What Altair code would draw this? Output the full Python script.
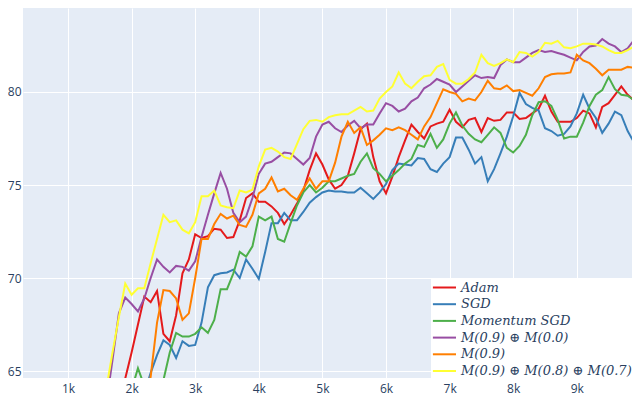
import altair as alt
import pandas as pd

NAMES = ["Adam", "SGD", "Momentum SGD", "M(0.9) ⊕ M(0.0)", "M(0.9)", "M(0.9) ⊕ M(0.8) ⊕ M(0.7)"]
COLORS = ["#e41a1c", "#377eb8", "#4daf4a", "#984ea3", "#ff7f00", "#ffff33"]
STEP = 100

ADAM_START = 1600
ADAM = [60.0, 62.0, 63.2, 64.6,
        66.0, 67.5, 69.0, 68.7, 69.3, 67.0, 66.6, 68.0, 70.25, 71.0,
        72.35, 72.15, 72.25, 72.65, 72.6, 72.15, 72.2, 73.1, 74.3, 74.55,
        74.1, 74.1, 73.85, 73.5, 72.9, 73.4, 74.0, 74.7, 75.8, 76.7,
        76.1, 75.3, 74.8, 75.0, 75.5, 76.7, 78.0, 78.3, 76.5, 75.2,
        74.55, 75.45, 76.5, 77.4, 78.25, 77.85, 77.5, 78.15, 78.3, 78.4,
        79.05, 78.4, 78.1, 78.5, 78.6, 77.85, 78.6, 78.45, 78.5, 78.9,
        78.9, 78.55, 78.6, 78.85, 79.1, 79.8, 78.95, 78.4, 78.4, 78.4,
        78.6, 79.0, 78.85, 78.1, 79.2, 79.4, 79.85, 80.3, 79.85, 79.55,
        80.2]

SGD_START = 2200
SGD = [63.8, 64.9, 65.85, 66.65, 66.4, 65.7, 66.6, 66.35,
       66.4, 67.6, 69.5, 70.15, 70.25, 70.3, 70.45, 70.0, 71.0, 70.5,
       69.95, 71.4, 72.95, 72.95, 73.5, 73.1, 73.1, 73.55, 74.05, 74.35,
       74.6, 74.7, 74.65, 74.65, 74.6, 74.6, 74.85, 74.55, 74.25, 74.6,
       75.05, 75.8, 76.15, 76.1, 76.05, 76.45, 76.4, 75.85, 75.7, 76.15,
       76.5, 77.55, 77.55, 76.9, 76.15, 76.5, 75.2, 75.85, 76.7, 77.6,
       78.7, 79.95, 79.35, 79.15, 79.0, 78.05, 77.9, 77.65, 77.75, 78.15,
       78.85, 79.85, 79.1, 78.6, 77.8, 78.3, 78.95, 78.75, 77.9, 77.3,
       77.2]

MSGD_START = 2000
MSGD = [64.0, 65.15, 64.2, 63.5, 63.8, 64.5, 66.0, 67.05, 66.85, 66.85,
        67.0, 67.35, 67.05, 67.75, 69.4, 69.4, 70.25, 71.4, 71.15, 71.7,
        73.3, 73.1, 73.3, 72.1, 71.95, 72.95, 73.9, 74.6, 75.0, 74.6,
        74.85, 75.2, 75.2, 75.35, 75.5, 75.6, 76.25, 76.7, 75.9, 75.6,
        75.2, 75.5, 75.8, 76.15, 76.4, 77.15, 77.05, 77.75, 77.0, 77.45,
        78.3, 78.9, 78.2, 77.75, 77.45, 77.3, 77.7, 78.1, 77.8, 77.0,
        76.75, 77.1, 77.7, 78.75, 79.45, 79.5, 79.25, 78.5, 77.5, 77.6,
        77.6, 78.35, 79.25, 79.85, 80.1, 80.8, 80.15, 79.85, 79.8, 79.55,
        78.85]

M2_START = 1500
M2 = [60.0, 63.2, 65.6, 68.1, 68.95,
      68.6, 68.2, 68.9, 70.0, 71.0, 70.6, 70.3, 70.65, 70.6, 70.4,
      70.9, 72.2, 73.4, 74.55, 75.65, 74.8, 73.5, 73.0, 73.3, 74.3,
      75.6, 76.15, 76.25, 76.5, 76.75, 76.7, 76.4, 76.1, 76.45, 77.6,
      78.25, 78.4, 78.05, 77.85, 78.2, 78.45, 78.05, 78.25, 78.25, 78.85,
      79.4, 79.25, 78.95, 79.1, 79.5, 79.7, 80.2, 80.4, 80.7, 80.55,
      80.4, 80.0, 80.3, 80.6, 80.9, 80.75, 80.8, 80.75, 81.45, 81.75,
      81.6, 81.6, 81.85, 82.1, 82.25, 82.15, 82.2, 82.1, 82.0, 81.85,
      81.7, 82.15, 82.45, 82.5, 82.85, 82.6, 82.45, 82.15, 82.35, 82.8,
      84.15]

M1_START = 2100
M1 = [60.0, 62.5, 64.7, 67.6, 69.35, 69.3, 68.9, 67.75, 68.1,
      70.0, 72.1, 72.1, 72.9, 73.45, 73.2, 73.35, 72.85, 72.75, 73.4,
      74.55, 74.8, 75.4, 74.65, 74.8, 74.45, 74.2, 74.8, 75.35, 74.8,
      75.2, 75.2, 76.2, 77.6, 78.4, 77.8, 78.1, 77.15, 77.4, 77.7,
      78.05, 77.95, 78.1, 77.95, 77.7, 77.45, 78.15, 78.65, 79.4, 80.15,
      80.0, 79.9, 79.5, 79.65, 79.55, 80.0, 80.6, 80.2, 80.15, 80.35,
      80.05, 80.1, 79.95, 79.8, 80.2, 80.8, 80.95, 81.0, 81.0, 81.05,
      82.0, 81.7, 81.55, 81.25, 80.9, 81.2, 81.2, 81.2, 81.35, 81.3,
      80.75]

M3_START = 1400
M3 = [59.0, 61.5, 64.0, 66.0, 67.9, 69.7,
      69.1, 69.45, 69.45, 70.8, 72.1, 73.4, 73.0, 73.1, 72.6, 72.4,
      73.0, 74.4, 74.4, 74.7, 73.9, 73.8, 73.75, 74.7, 74.6, 74.75,
      76.0, 76.9, 77.0, 76.8, 76.5, 76.4, 77.2, 78.0, 78.45, 78.5,
      78.4, 78.65, 78.75, 78.8, 78.8, 79.0, 79.2, 78.95, 79.0, 79.65,
      80.0, 80.3, 81.05, 80.45, 80.2, 80.55, 80.85, 80.9, 81.35, 81.5,
      80.65, 80.45, 80.45, 80.7, 81.05, 82.0, 81.55, 81.4, 81.55, 81.75,
      81.6, 82.15, 82.1, 81.9, 82.15, 82.65, 82.6, 82.75, 82.4, 82.35,
      82.45, 82.6, 82.6, 82.55, 82.45, 82.25, 82.1, 82.1, 82.25, 82.45,
      82.7]

X_TICKS = [1000, 2000, 3000, 4000, 5000, 6000, 7000, 8000, 9000]
Y_TICKS = [65, 70, 75, 80]

series = [
    (NAMES[0], ADAM_START, ADAM),
    (NAMES[1], SGD_START, SGD),
    (NAMES[2], MSGD_START, MSGD),
    (NAMES[3], M2_START, M2),
    (NAMES[4], M1_START, M1),
    (NAMES[5], M3_START, M3),
]
rows = []
for idx, (name, start, vals) in enumerate(series):
    for i, v in enumerate(vals):
        rows.append({"step": start + STEP * i, "acc": v, "series": name, "k": idx})
df = pd.DataFrame(rows)

chart = alt.Chart(df).mark_line(strokeWidth=2, clip=True).encode(
    x=alt.X("step:Q",
            scale=alt.Scale(domain=[292.5, 9868], nice=False, zero=False),
            axis=alt.Axis(values=X_TICKS, labelExpr="datum.value / 1000 + 'k'",
                          title=None, ticks=False, tickSize=0, domain=False,
                          labelPadding=5)),
    y=alt.Y("acc:Q",
            scale=alt.Scale(domain=[64.624, 84.516], nice=False, zero=False),
            axis=alt.Axis(values=Y_TICKS, title=None, ticks=False, tickSize=0,
                          domain=False, labelPadding=2)),
    color=alt.Color("series:N",
                    scale=alt.Scale(domain=NAMES, range=COLORS),
                    legend=alt.Legend(title=None, orient="none", legendX=408, legendY=271,
                                      fillColor="white", padding=2,
                                      labelFont="DejaVu Serif", labelFontStyle="italic",
                                      labelFontSize=13, labelColor="#2a3f5f",
                                      labelLimit=300,
                                      symbolType="M-1.2,0H3.0", symbolSize=121,
                                      symbolStrokeWidth=2, labelOffset=15,
                                      rowPadding=2.7)),
    order=alt.Order("k:Q"),
).properties(
    width=609, height=370,
    autosize=alt.AutoSizeParams(type="none"),
    padding={"left": 15, "top": 0, "right": 0, "bottom": 20},
    background="white",
).configure_view(
    fill="#E5ECF6", stroke=None
).configure_axis(
    gridColor="white", gridWidth=1, labelFont="Open Sans",
    labelFontSize=12, labelColor="#2a3f5f"
)

chart.save("out.html", embed_options={"renderer": "svg", "actions": False})
